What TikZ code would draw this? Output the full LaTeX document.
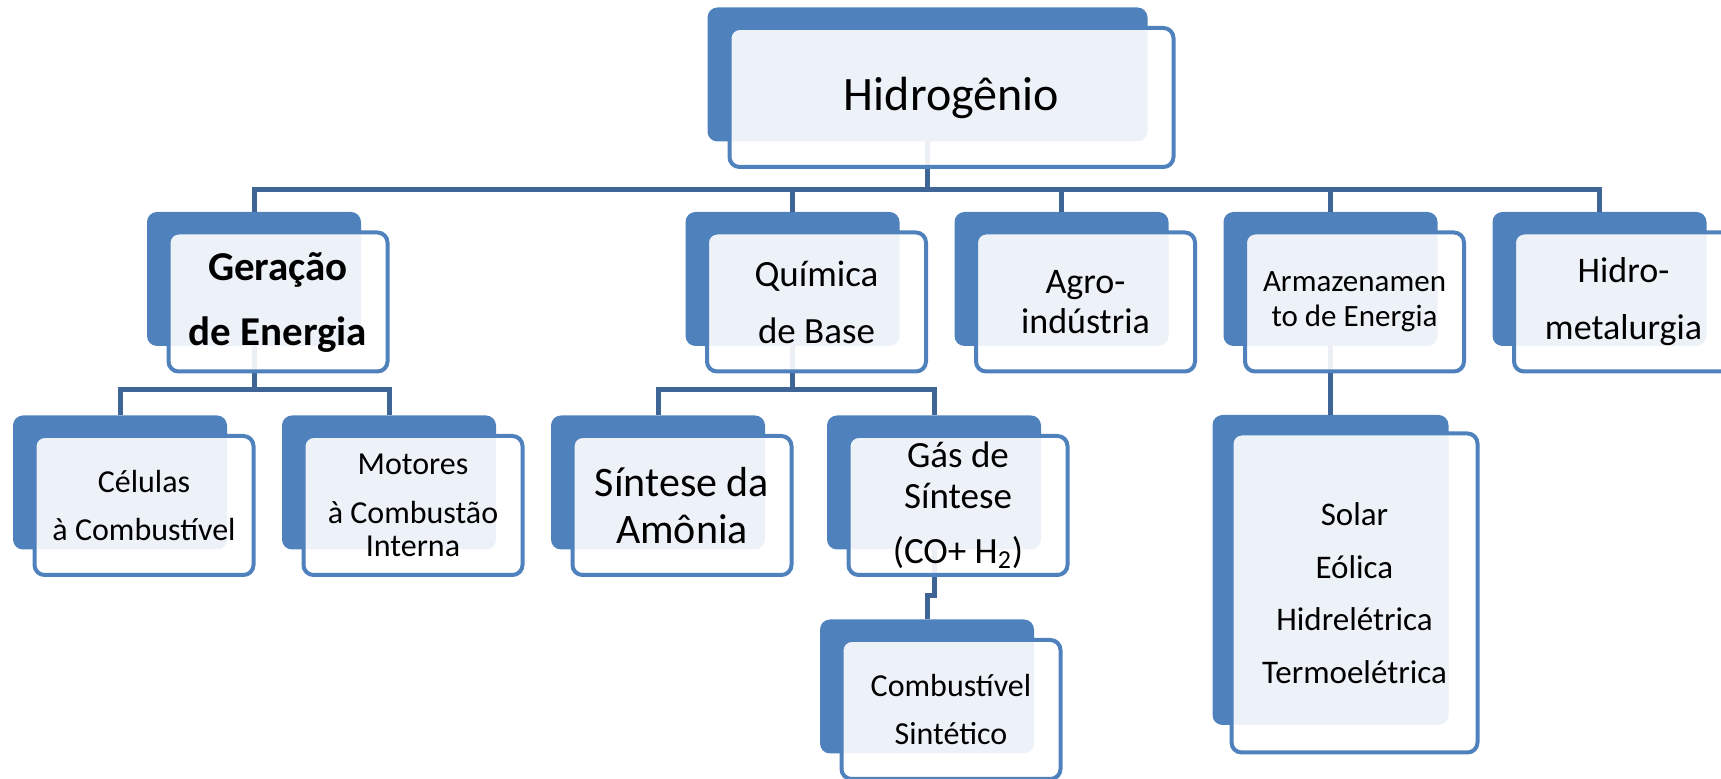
\documentclass[tikz,border=0pt]{standalone}
\usepackage{fontspec}
\setmainfont{Carlito}
\usetikzlibrary{positioning,calc}
\definecolor{boxblue}{RGB}{79,129,189}
\definecolor{linkblue}{RGB}{62,101,149}

\begin{document}
\begin{tikzpicture}[
    x=0.5pt,y=-0.5pt,
    node distance=27.5pt,
    back/.style={rectangle,fill=boxblue,rounded corners=5pt,inner sep=0pt,outer sep=0pt,minimum width=107pt,minimum height=67pt},
    front/.style={rectangle,draw=boxblue,line width=2pt,fill=white,fill opacity=0.9,text opacity=1,rounded corners=5pt,align=center,inner sep=0pt,outer sep=0pt,minimum width=109.5pt,minimum height=69.5pt},
    link/.style={draw=linkblue,line width=2.5pt}]
    \useasboundingbox (0,0) rectangle (1721,779);

    \node[back,minimum width=220pt] (h) at (927.5,74.5) {};
    \node[back] (ger) at (254,279) {};
    \node[back] (qui) at (792.5,279) {};
    \node[back,right=of qui] (agro) {};
    \node[back,right=of agro] (arm) {};
    \node[back,right=of arm] (met) {};
    \node[back] (cel) at (120,482.5) {};
    \node[back,right=of cel] (mot) {};
    \node[back] (amo) at (658,482.5) {};
    \node[back,right=31pt of amo] (gas) {};
    \node[back,below=35pt of gas,xshift=-3.5pt] (sin) {};
    \node[back,below=34.5pt of arm,minimum width=118pt,minimum height=155pt] (ren) {};

    \coordinate (bus) at (0,190);
    \coordinate (bus2) at (0,390);
    \foreach \c in {ger,qui,agro,arm,met}
      \draw[link] (h.south) -- (h.south |- bus) -| (\c.north);
    \foreach \c in {cel,mot}
      \draw[link] (ger.south) -- (ger.south |- bus2) -| (\c.north);
    \foreach \c in {amo,gas}
      \draw[link] (qui.south) -- (qui.south |- bus2) -| (\c.north);
    \draw[link] (arm.south) -- (ren.north);
    \draw[link] (gas.south) -- ++(0,46) -| (sin.north);

    \node[front,minimum width=222pt,font=\fontsize{24}{29}\selectfont] (h-t) at ([shift={(24,23)}]h.center) {Hidrogênio};
    \node[front,font=\fontsize{20.5}{32.5}\selectfont\bfseries] (ger-t) at ([shift={(24,23)}]ger.center) {Geração\\de Energia};
    \node[front,font=\fontsize{18.5}{28.5}\selectfont] (qui-t) at ([shift={(24,23)}]qui.center) {Química\\de Base};
    \node[front,font=\fontsize{18}{20}\selectfont] (agro-t) at ([shift={(24,23)}]agro.center) {Agro-\\indústria};
    \node[front,font=\fontsize{15.5}{17.5}\selectfont] (arm-t) at ([shift={(24,23)}]arm.center) {Armazenamen\\to de Energia};
    \node[front,font=\fontsize{18}{28.5}\selectfont] (met-t) at ([shift={(24,23)}]met.center) {Hidro-\\metalurgia};
    \node[front,font=\fontsize{16}{24}\selectfont] (cel-t) at ([shift={(24,23)}]cel.center) {Células\\à Combustível};
    \node[front,font=\fontsize{16}{16.5}\selectfont] (mot-t) at ([shift={(24,23)}]mot.center) {Motores\\[8pt]à Combustão\\Interna};
    \node[front,font=\fontsize{21}{23.5}\selectfont] (amo-t) at ([shift={(24,23)}]amo.center) {Síntese da\\Amônia};
    \node[front,font=\fontsize{18.5}{20.5}\selectfont] (gas-t) at ([shift={(24,23)}]gas.center) {Gás de\\Síntese\\[7pt](CO+ H\textsubscript{2})};
    \node[front,font=\fontsize{16}{24}\selectfont] (sin-t) at ([shift={(24,23)}]sin.center) {Combustível\\Sintético};
    \node[front,minimum width=123pt,minimum height=159.5pt,font=\fontsize{16.5}{26.25}\selectfont] (ren-t) at ([shift={(24,23)}]ren.center) {Solar\\Eólica\\Hidrelétrica\\Termoelétrica};
\end{tikzpicture}
\end{document}
